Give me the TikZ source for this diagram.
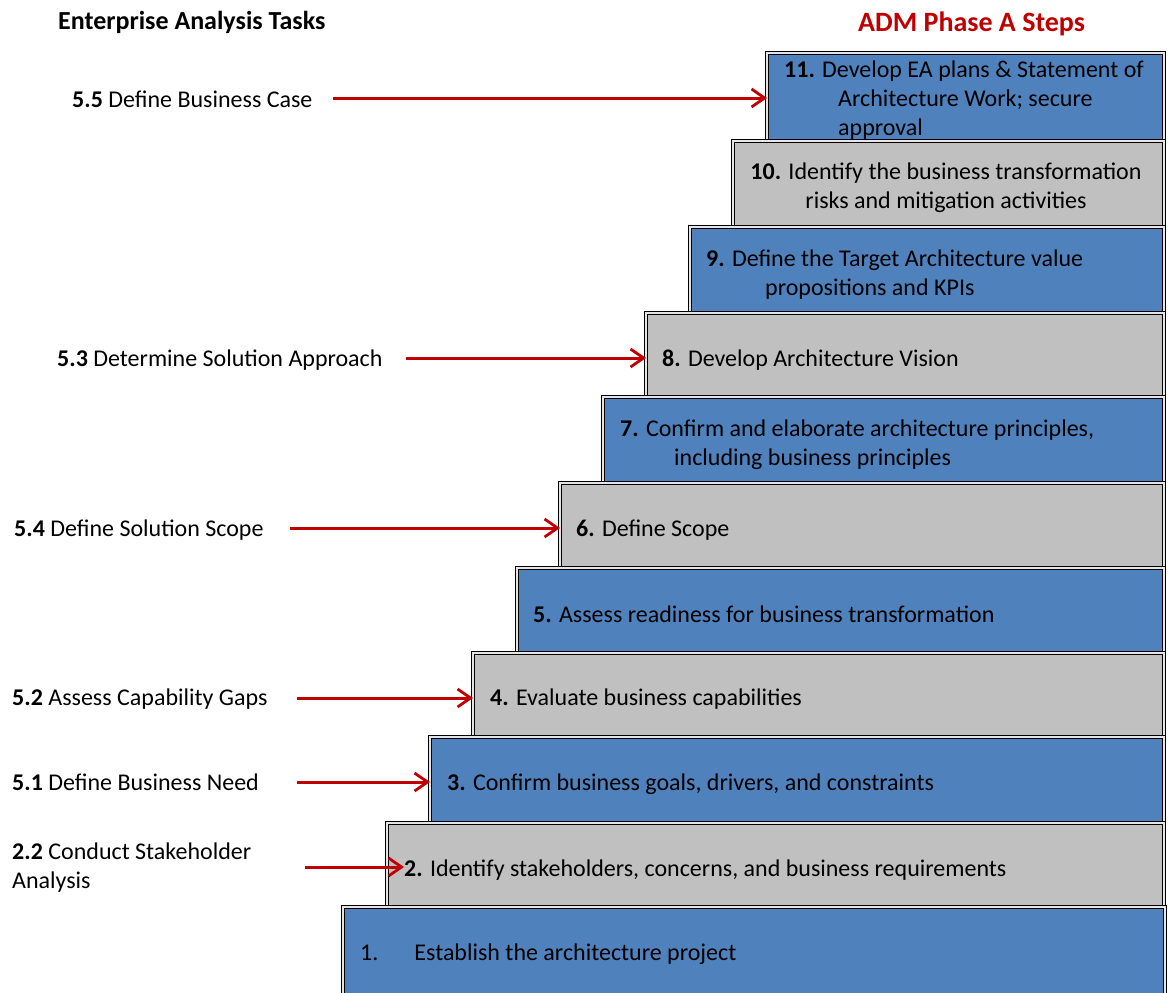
\documentclass[tikz,border=0pt]{standalone}
\usepackage{fontspec}
\setmainfont{Carlito}
\usetikzlibrary{arrows.meta}
\definecolor{stepblue}{RGB}{79,129,189}
\definecolor{stepgray}{RGB}{192,192,192}
\definecolor{arrowred}{RGB}{192,0,0}
\begin{document}
\begin{tikzpicture}[x=1pt,y=-1pt,
  stepbox/.style={draw=black, double=white!80!gray, double distance=1.6pt, line width=1pt,
                  anchor=north west, inner sep=0pt, outer sep=0pt},
  bluebox/.style={stepbox, fill=stepblue},
  graybox/.style={stepbox, fill=stepgray},
  txt/.style={inner sep=0pt, anchor=west, align=left, yshift=-2pt,
              font=\fontsize{24}{29}\selectfont},
  heading/.style={inner sep=0pt, anchor=west, yshift=-2pt},
  link/.style={draw=arrowred, line width=3pt,
               -{Straight Barb[length=13pt,width=18pt,line width=2.8pt]}},
]
\useasboundingbox (0,0) rectangle (1171,993);

% staircase of step boxes, top to bottom
\begin{scope}
\clip (0,0) rectangle (1171,993);
\node[bluebox, minimum width=397pt, minimum height=88pt] (b11) at (767,53) {};
\node[graybox, minimum width=431pt, minimum height=86pt] (b10) at (733,141) {};
\node[bluebox, minimum width=474pt, minimum height=86pt] (b9) at (690,227) {};
\node[graybox, minimum width=518pt, minimum height=84pt] (b8) at (646,313) {};
\node[bluebox, minimum width=561pt, minimum height=86pt] (b7) at (603,397) {};
\node[graybox, minimum width=604pt, minimum height=85pt] (b6) at (560,483) {};
\node[bluebox, minimum width=647pt, minimum height=85pt] (b5) at (517,568) {};
\node[graybox, minimum width=691pt, minimum height=84pt] (b4) at (473,653) {};
\node[bluebox, minimum width=734pt, minimum height=86pt] (b3) at (430,737) {};
\node[graybox, minimum width=777pt, minimum height=84pt] (b2) at (387,823) {};
\node[bluebox, minimum width=822pt, minimum height=100pt] (b1) at (343,907) {};
\end{scope}

% step texts
\node[txt] (t11) at (784,98.5) {\textbf{11.} Develop EA plans \& Statement of\\\hspace*{54pt}Architecture Work; secure\\\hspace*{54pt}approval};
\node[txt, anchor=center, align=center] (t10) at (946,186) {\textbf{10.} Identify the business transformation\\risks and mitigation activities};
\node[txt] (t9) at (706,272.5) {\textbf{9.} Define the Target Architecture value\\\hspace*{59pt}propositions and KPIs};
\node[txt] (t8) at (662,358) {\textbf{8.} Develop Architecture Vision};
\node[txt] (t7) at (620,442.5) {\textbf{7.} Confirm and elaborate architecture principles,\\\hspace*{54pt}including business principles};
\node[txt] (t6) at (576,528) {\textbf{6.} Define Scope};
\node[txt] (t5) at (533,612) {\textbf{5.} Assess readiness for business transformation};
\node[txt] (t4) at (490,697) {\textbf{4.} Evaluate business capabilities};
\node[txt] (t3) at (447,782) {\textbf{3.} Confirm business goals, drivers, and constraints};
\node[txt] (t2) at (404,868) {\textbf{2.} Identify stakeholders, concerns, and business requirements};
\node[txt] (t1) at (360,952) {1.\hspace*{36pt}Establish the architecture project};

% column headings
\node[heading, font=\fontsize{26}{30}\selectfont\bfseries] (h1) at (58,20) {Enterprise Analysis Tasks};
\node[heading, text=arrowred, font=\fontsize{28}{32}\selectfont\bfseries] (h2) at (858,22) {ADM Phase A Steps};

% enterprise analysis tasks
\node[txt] (l55) at (72,97) {\textbf{5.5} Define Business Case};
\node[txt] (l53) at (57,358) {\textbf{5.3} Determine Solution Approach};
\node[txt] (l54) at (14,528) {\textbf{5.4} Define Solution Scope};
\node[txt] (l52) at (12,697) {\textbf{5.2} Assess Capability Gaps};
\node[txt] (l51) at (12,780) {\textbf{5.1} Define Business Need};
\node[txt] (l22) at (12,865.5) {\textbf{2.2} Conduct Stakeholder\\Analysis};

% arrow tails
\coordinate (s55) at (333,98);
\coordinate (s53) at (406,358);
\coordinate (s54) at (290,528);
\coordinate (s52) at (297,698);
\coordinate (s51) at (297,782);
\coordinate (s22) at (305,867);

% arrows from tasks to steps
\draw[link] (s55) -- (s55 -| b11.west);
\draw[link] (s53) -- (s53 -| b8.west);
\draw[link] (s54) -- (s54 -| b6.west);
\draw[link] (s52) -- (s52 -| b4.west);
\draw[link] (s51) -- (s51 -| b3.west);
\draw[link] (s22) -- (s22 -| t2.west);
\end{tikzpicture}
\end{document}
